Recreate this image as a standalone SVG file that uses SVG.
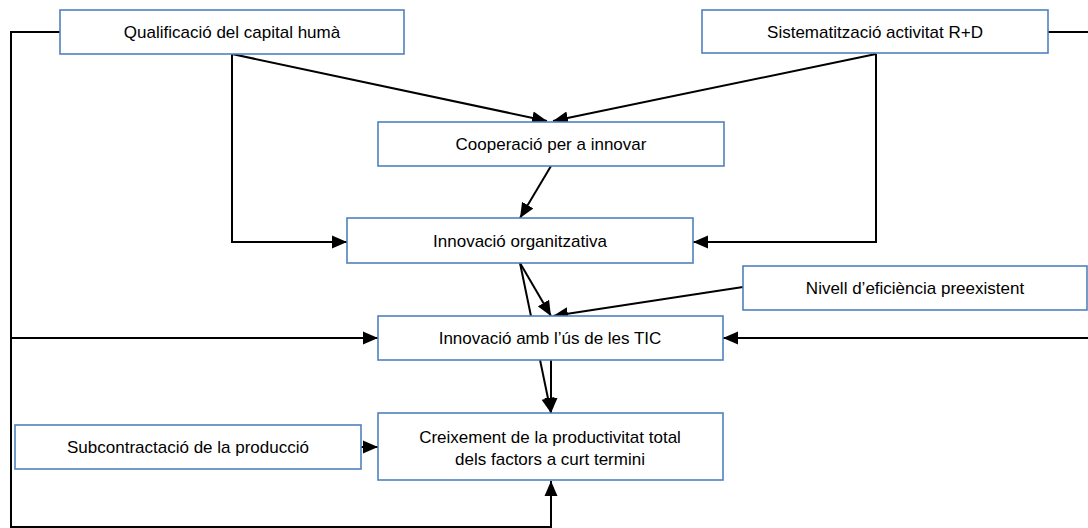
<svg xmlns="http://www.w3.org/2000/svg" width="1088" height="528" viewBox="0 0 1088 528">
<style>
.box{fill:#fff;stroke:#4F81BD;stroke-width:1.6}
.t{font-family:"Liberation Sans",Arial,sans-serif;font-size:17px;fill:#000;text-anchor:middle}
.c{fill:none;stroke:#000;stroke-width:2}
.a{marker-end:url(#ah)}
</style>
<defs>
<marker id="ah" markerUnits="userSpaceOnUse" markerWidth="17" markerHeight="14" viewBox="0 0 17 14" refX="15" refY="7" orient="auto">
<path d="M0,0.5 L15,7 L0,13.5 Z" fill="#000"/>
</marker>
</defs>
<rect width="1088" height="528" fill="#fff"/>
<g id="connectors">
<path class="c a" d="M60,32 H11 V527 H551 V481"/>
<path class="c a" d="M11,338 H378"/>
<path class="c a" d="M232,54 V242 H347"/>
<path class="c a" d="M232,54 L547,121"/>
<path class="c a" d="M876,54 V242 H693"/>
<path class="c a" d="M876,54 L553,121"/>
<path class="c a" d="M1048,32 H1092 V338 H723"/>
<path class="c a" d="M551,166 L520,218"/>
<path class="c a" d="M520,263 L551,316"/>
<path class="c a" d="M520,263 L551,413"/>
<path class="c a" d="M743,287 L553,316"/>
<path class="c a" d="M551,360 V413"/>
<path class="c a" d="M361,447 H378"/>
</g>
<g id="n-qualificacio"><rect class="box" x="60" y="10" width="344" height="44"/><text class="t" x="232" y="38">Qualificació del capital humà</text></g>
<g id="n-sistematitzacio"><rect class="box" x="702" y="10" width="346" height="43"/><text class="t" x="875" y="38">Sistematització activitat R+D</text></g>
<g id="n-cooperacio"><rect class="box" x="378" y="122" width="346" height="44"/><text class="t" x="551" y="150">Cooperació per a innovar</text></g>
<g id="n-organitzativa"><rect class="box" x="347" y="218" width="346" height="45"/><text class="t" x="520" y="247">Innovació organitzativa</text></g>
<g id="n-nivell"><rect class="box" x="743" y="266" width="344" height="44"/><text class="t" x="915" y="294">Nivell d’eficiència preexistent</text></g>
<g id="n-tic"><rect class="box" x="378" y="316" width="345" height="44"/><text class="t" x="550" y="344">Innovació amb l’ús de les TIC</text></g>
<g id="n-subcontractacio"><rect class="box" x="15" y="425" width="346" height="44"/><text class="t" x="188" y="453">Subcontractació de la producció</text></g>
<g id="n-creixement"><rect class="box" x="378" y="413" width="345" height="67"/><text class="t" x="550" y="443">Creixement de la productivitat total</text><text class="t" x="550" y="465">dels factors a curt termini</text></g>
</svg>
